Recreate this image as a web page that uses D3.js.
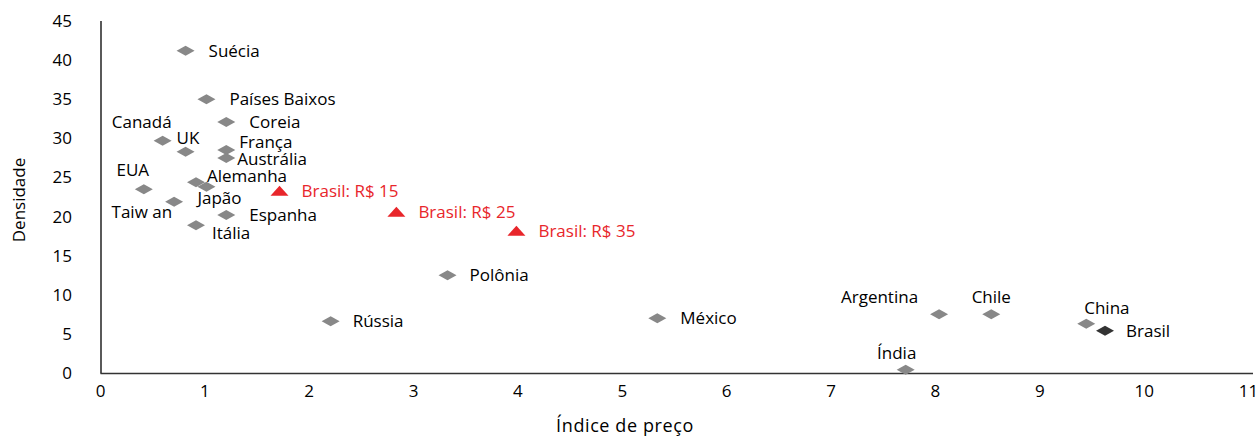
<!DOCTYPE html>
<html><head><meta charset="utf-8">
<script src="https://cdn.jsdelivr.net/npm/d3@7"></script>
<style>
body{margin:0;background:#fff;}
text{font-family:"Open Sans",sans-serif;}
</style></head>
<body>
<svg id="c" width="1257" height="437"></svg>
<script>
const countries = ["Suécia","Países Baixos","Coreia","Canadá","UK","França","Austrália","Alemanha","EUA","Japão","Taiw an","Espanha","Itália","Polônia","Rússia","México","Argentina","Chile","China","Índia","Brasil"];
const priceIndex = [0.82,1.02,1.21,0.60,0.82,1.21,1.21,0.92,0.42,1.02,0.71,1.21,0.92,3.33,2.21,5.34,8.04,8.54,9.45,7.72,9.63];
const density = [41.2,35.0,32.1,29.7,28.3,28.5,27.5,24.4,23.5,23.8,21.9,20.2,18.9,12.5,6.6,7.0,7.5,7.5,6.3,0.4,5.4];
// label placement: [dx, dy, anchor]
const labelPos = [[23,6,"start"],[23,6,"start"],[23,6,"start"],[9,-13,"end"],[-9,-8,"start"],[13,-2,"start"],[11,7,"start"],[11,0,"start"],[-11,-13,"middle"],[-9,17,"start"],[-2,16,"end"],[23,6,"start"],[16,14,"start"],[22,6,"start"],[22,6,"start"],[23,6,"start"],[-21,-11,"end"],[0,-11,"middle"],[-2,-10,"start"],[-9,-11,"middle"],[21,6,"start"]];
const scenarios = ["Brasil: R$ 15","Brasil: R$ 25","Brasil: R$ 35"];
const scenarioPrice = [1.72,2.84,3.99];
const scenarioDensity = [23.3,20.6,18.2];
const xTicks = [0,1,2,3,4,5,6,7,8,9,10,11];
const yTicks = [0,5,10,15,20,25,30,35,40,45];

const FS = 17;
const svg = d3.select("#c");
const x = d3.scaleLinear().domain([0,11]).range([100,1248]);
const y = d3.scaleLinear().domain([0,45]).range([373,21]);

// axes
const xAxis = svg.append("g").attr("transform","translate(0,373)")
  .call(d3.axisBottom(x).tickValues(xTicks).tickSize(0).tickPadding(12).tickFormat(d3.format("d")));
xAxis.select(".domain").remove();
const yAxis = svg.append("g").attr("transform","translate(101,0)")
  .call(d3.axisLeft(y).tickValues(yTicks).tickSize(0).tickPadding(29).tickFormat(d3.format("d")));
yAxis.select(".domain").remove();
svg.selectAll(".tick text").attr("font-size",FS).attr("fill","#000").attr("font-family","'Open Sans',sans-serif");
svg.append("line").attr("x1",101).attr("x2",101).attr("y1",y(45)).attr("y2",y(0)+0.5).attr("stroke","#000").attr("stroke-width",1.3);
svg.append("line").attr("x1",100.5).attr("x2",1253).attr("y1",373.5).attr("y2",373.5).attr("stroke","#333").attr("stroke-width",1.3);

svg.append("text").attr("transform","translate(25,200) rotate(-90)").attr("text-anchor","middle")
  .attr("font-size",FS).text("Densidade");
svg.append("text").attr("x",625).attr("y",432).attr("text-anchor","middle")
  .attr("font-size",18).attr("letter-spacing",0.6).text("Índice de preço");

const data = countries.map((c,i)=>({c, px:priceIndex[i], d:density[i], lp:labelPos[i]}));
const diamond = "M-9,0L0,-5L9,0L0,5Z";
svg.append("g").selectAll("path").data(data).join("path")
  .attr("d",diamond)
  .attr("transform",d=>`translate(${x(d.px)},${y(d.d)})`)
  .attr("fill",d=>d.c==="Brasil"?"#333333":"#888888");
svg.append("g").selectAll("text").data(data).join("text")
  .attr("x",d=>x(d.px)+d.lp[0]).attr("y",d=>y(d.d)+d.lp[1])
  .attr("text-anchor",d=>d.lp[2]).attr("font-size",FS).attr("fill","#000")
  .text(d=>d.c);

const sc = scenarios.map((s,i)=>({s, px:scenarioPrice[i], d:scenarioDensity[i]}));
const tri = "M-9,5L0,-5L9,5Z";
svg.append("g").selectAll("path").data(sc).join("path")
  .attr("d",tri).attr("transform",d=>`translate(${x(d.px)},${y(d.d)})`).attr("fill","#e8262b");
svg.append("g").selectAll("text").data(sc).join("text")
  .attr("x",d=>x(d.px)+22).attr("y",d=>y(d.d)+6).attr("font-size",FS).attr("fill","#e8262b")
  .text(d=>d.s);
</script>
</body></html>
